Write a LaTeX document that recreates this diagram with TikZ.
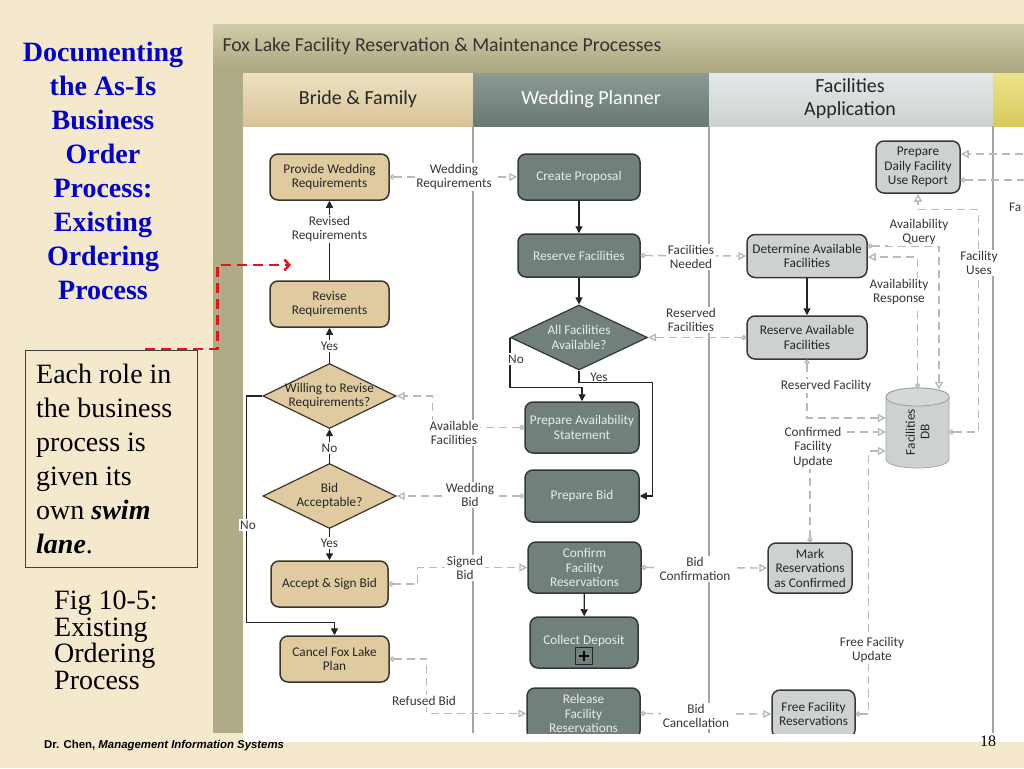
\documentclass[tikz,border=0pt]{standalone}
\usepackage{fontspec}
\setmainfont{Liberation Serif}
\newfontfamily\diagfont{Carlito}
\newfontfamily\arialfont{Liberation Sans}
\usetikzlibrary{arrows.meta,shapes.geometric,calc}
\definecolor{slidebg}{RGB}{245,233,205}
\definecolor{titletop}{RGB}{208,203,168}
\definecolor{titlebot}{RGB}{170,166,128}
\definecolor{stripcol}{RGB}{175,171,135}
\definecolor{bhtop}{RGB}{238,224,192}
\definecolor{bhbot}{RGB}{215,195,152}
\definecolor{whtop}{RGB}{140,154,150}
\definecolor{whbot}{RGB}{105,120,116}
\definecolor{fhtop}{RGB}{228,231,231}
\definecolor{fhbot}{RGB}{205,210,210}
\definecolor{yhtop}{RGB}{236,228,140}
\definecolor{yhbot}{RGB}{215,200,90}
\definecolor{bfill}{RGB}{224,203,160}
\definecolor{bline}{RGB}{60,54,42}
\definecolor{wfill}{RGB}{113,128,123}
\definecolor{wline}{RGB}{50,56,54}
\definecolor{wtext}{RGB}{232,236,234}
\definecolor{ffill}{RGB}{205,210,208}
\definecolor{fline}{RGB}{55,57,57}
\definecolor{lanediv}{RGB}{165,165,165}
\definecolor{msgcol}{RGB}{185,185,185}
\definecolor{flowcol}{RGB}{35,35,35}
\definecolor{lbltext}{RGB}{55,55,55}
\definecolor{titleblue}{RGB}{0,0,200}
\definecolor{notered}{RGB}{230,20,20}
\begin{document}
\begin{tikzpicture}[x=1pt,y=-1pt,
  nodetxt/.style={font=\fontsize{13.3}{14.5}\selectfont\diagfont},
  box/.style={nodetxt, rounded corners=8pt, line width=1.5pt, align=center, inner sep=2pt},
  bbox/.style={box, draw=bline, fill=bfill, text=black!85},
  wbox/.style={box, draw=wline, fill=wfill, text=wtext},
  fbox/.style={box, draw=fline, fill=ffill, text=black!85},
  bdiam/.style={diamond, draw=bline, fill=bfill, line width=1.2pt, inner sep=0pt, minimum width=133pt, minimum height=65pt},
  wdiam/.style={diamond, draw=wline, fill=wfill, line width=1.2pt, inner sep=0pt, minimum width=137pt, minimum height=65pt},
  flow/.style={draw=flowcol, line width=1.3pt, -{Triangle[length=7pt,width=7pt]}},
  msg/.style={draw=msgcol, line width=1.4pt, dash pattern=on 8pt off 5pt, {Circle[open,length=5pt,width=5pt]}-{Triangle[open,length=8pt,width=8pt]}},
  lbl/.style={nodetxt, text=lbltext, fill=white, align=center, inner sep=1.5pt},
  hdr/.style={font=\fontsize{20}{23}\selectfont\diagfont, align=center},
]
\useasboundingbox (0,0) rectangle (1024,768);
\fill[slidebg] (0,0) rectangle (1024,768);

% diagram frame
\fill[white] (243,73) rectangle (1024,742);
\shade[top color=titletop, bottom color=titlebot] (213,25) rectangle (1024,73);
\fill[stripcol] (213,73) rectangle (243,733);
\shade[top color=bhtop, bottom color=bhbot] (243,73) rectangle (473,126);
\shade[top color=whtop, bottom color=whbot] (473,73) rectangle (709,126);
\shade[top color=fhtop, bottom color=fhbot] (709,73) rectangle (993,126);
\shade[top color=yhtop, bottom color=yhbot] (993,73) rectangle (1024,126);
\node[anchor=west, font=\fontsize{19.8}{22}\selectfont\diagfont, text=black!80] (ttlbar) at (219,46) {Fox Lake Facility Reservation \& Maintenance Processes};
\node[hdr, text=black!85] (hb) at (358,99) {Bride \& Family};
\node[hdr, text=white] (hw) at (591,99) {Wedding Planner};
\node[hdr, text=black!85] (hf) at (850,99) {Facilities\\Application};

\begin{scope}
\clip (243,126) rectangle (1024,733);
\draw[lanediv, line width=1.2pt] (473,126) -- (473,733) (709,126) -- (709,733) (993,126) -- (993,733);

% Bride & Family
\node[bbox, minimum width=119pt, minimum height=46pt] (pwr) at (329.5,177) {Provide Wedding\\Requirements};
\node[bbox, minimum width=119pt, minimum height=46pt] (rr) at (329.5,304) {Revise\\Requirements};
\node[bdiam] (wr) at (329.5,396) {};
\node[nodetxt, align=center, text=black!85] (wrt) at (wr.center) {Willing to Revise\\Requirements?};
\node[bdiam] (ba) at (329.5,496) {};
\node[nodetxt, align=center, text=black!85] (bat) at (ba.center) {Bid\\Acceptable?};
\node[bbox, minimum width=117pt, minimum height=46pt] (asb) at (329.5,584) {Accept \& Sign Bid};
\node[bbox, minimum width=109pt, minimum height=46pt] (cfl) at (334.5,659) {Cancel Fox Lake\\Plan};

% Wedding Planner
\node[wbox, minimum width=122pt, minimum height=46pt] (cp) at (579,177) {Create Proposal};
\node[wbox, minimum width=122pt, minimum height=43pt] (rf) at (579,255.5) {Reserve Facilities};
\node[wdiam] (afa) at (579,337.5) {};
\node[nodetxt, align=center, text=wtext] (afat) at (afa.center) {All Facilities\\Available?};
\node[wbox, minimum width=114pt, minimum height=51pt] (pas) at (582,427.5) {Prepare Availability\\Statement};
\node[wbox, minimum width=114pt, minimum height=52pt] (pb) at (582,496) {Prepare Bid};
\node[wbox, minimum width=113pt, minimum height=51pt] (cfr) at (584.5,567.5) {Confirm\\Facility\\Reservations};
\node[wbox, minimum width=108pt, minimum height=51pt] (cd) at (584,642.5) {};
\node[nodetxt, text=wtext] (cdt) at (584,641) {Collect Deposit};
\node[draw=black!85, line width=1pt, minimum size=17pt, inner sep=0pt] (plus) at (584,656) {};
\draw[black, line width=2.6pt] ($(plus.center)+(-5,0)$) -- ($(plus.center)+(5,0)$) ($(plus.center)+(0,-5)$) -- ($(plus.center)+(0,5)$);
\node[wbox, minimum width=113pt, minimum height=51pt] (rfr) at (583.5,713.5) {Release\\Facility\\Reservations};

% Facilities Application
\node[fbox, minimum width=84pt, minimum height=52pt] (pd) at (918,167) {Prepare\\Daily Facility\\Use Report};
\node[fbox, minimum width=120pt, minimum height=43pt] (daf) at (807,256) {Determine Available\\Facilities};
\node[fbox, minimum width=120pt, minimum height=43pt] (raf) at (807,337.5) {Reserve Available\\Facilities};
\node[fbox, minimum width=84pt, minimum height=50pt] (mrc) at (810,568) {Mark\\Reservations\\as Confirmed};
\node[fbox, minimum width=83pt, minimum height=48pt] (ffr) at (813.5,714) {Free Facility\\Reservations};
% Facilities DB cylinder
\node[minimum width=63pt, minimum height=80pt, inner sep=0pt] (db) at (917.5,428) {};
\filldraw[fill=ffill, draw=ffill!80!black, line width=0.8pt] (886,397) -- (886,459) .. controls (886,471) and (949,471) .. (949,459) -- (949,397) .. controls (949,385) and (886,385) .. cycle;
\draw[ffill!75!black, line width=0.8pt, fill=ffill!85!white] (886,397) .. controls (886,409) and (949,409) .. (949,397) .. controls (949,385) and (886,385) .. (886,397);
\node[nodetxt, rotate=90, align=center, text=black!85] (dbt) at (917.5,432) {Facilities\\DB};

% flow connectors
\draw[flow] (rr) -- (pwr);
\draw[flow] (wr) -- (rr);
\draw[flow] (ba) -- (wr);
\draw[flow] (ba) -- (asb);
\draw[flow] (wr.west) -- ++(-16,0) |- ($(cfl.north)+(0,-13)$) -- (cfl.north);
\draw[flow] (cp) -- (rf);
\draw[flow] (rf) -- (afa);
\draw[flow] (afa.west) -- ++(0,50) -| (pas.north);
\draw[flow] (afa.south) -- ++(0,12) -| ($(pb.east)+(13,0)$) -- (pb.east);
\draw[flow] (daf) -- (raf);
\draw[flow] (cfr) -- (cd);

% message connectors
\draw[msg] (pwr.east) -- (cp.west);
\draw[msg] (rf.east) -- (daf.west);
\draw[msg] (raf.west) -- (afa.east);
\draw[msg] (pas.west) -| ($(wr.east)+(36,0)$) -- (wr.east);
\draw[msg] (pb.west) -- (ba.east);
\draw[msg] (asb.east) -- ++(29,0) |- (cfr.west);
\draw[msg] (cfl.east) -- ++(37,0) |- (rfr.west);
\draw[msg] (cfr.east) -- (mrc.west);
\draw[msg] (rfr.east) -- (ffr.west);
\draw[msg] (raf.south) |- ($(db.west)+(0,-10)$);
\draw[msg] (mrc.north) |- ($(db.west)+(0,4)$);
\draw[msg] (ffr.east) -- ++(13,0) |- ($(db.west)+(0,23)$);
\draw[msg] ($(daf.east)+(0,-10)$) -| ($(db.north)+(21.5,2)$);
\draw[msg] (db.north) |- ($(daf.east)+(0,1)$);
\draw[msg] ($(db.east)+(0,4)$) -- ++(29,0) |- ($(pd.south)+(0,16)$) -- (pd.south);
\coordinate (offin) at (1040,154);
\coordinate (offout) at (1040,180);
\draw[msg] (offin) -- ($(pd.east)+(0,-13)$);
\draw[msg] ($(pd.east)+(0,13)$) -- (offout);

% labels
\node[lbl] (l1) at (329.5,229) {Revised\\Requirements};
\node[lbl] (l2) at (329.5,346) {Yes};
\node[lbl] (l3) at (329.5,448) {No};
\node[lbl] (l4) at (329.5,543) {Yes};
\node[lbl] (l6) at (516,359) {No};
\node[nodetxt, text=lbltext, anchor=south, inner sep=1pt] (l7) at (599,382.5) {Yes};
\node[lbl] (l8) at (454,177) {Wedding\\Requirements};
\node[lbl] (l9) at (691,257) {Facilities\\Needed};
\node[lbl] (l10) at (691,320) {Reserved\\Facilities};
\node[lbl] (l11) at (454,433) {Available\\Facilities};
\node[lbl] (l12) at (470,495) {Wedding\\Bid};
\node[lbl] (l13) at (465,568) {Signed\\Bid};
\node[lbl] (l14) at (424,701) {Refused Bid};
\node[lbl] (l15) at (695,569) {Bid\\Confirmation};
\node[lbl] (l16) at (696,716) {Bid\\Cancellation};
\node[lbl] (l17) at (826,386) {Reserved Facility};
\node[lbl] (l18) at (813,447) {Confirmed\\Facility\\Update};
\node[lbl] (l19) at (872,650) {Free Facility\\Update};
\node[lbl] (l20) at (919,232) {Availability\\Query};
\node[lbl] (l21) at (899,292) {Availability\\Response};
\node[lbl] (l22) at (979,263) {Facility\\Uses};
\node[nodetxt, text=lbltext, anchor=west, inner sep=0pt] (l23) at (1009,207) {Fa};
\end{scope}
\node[lbl] (l5) at (248,525) {No};

% slide text
\node[anchor=north, align=center, text=titleblue, inner sep=0pt, font=\fontsize{28}{34}\selectfont\bfseries] (ttl) at (103,42) {Documenting\\the As-Is\\Business\\Order\\Process:\\Existing\\Ordering\\Process};
\node[draw=black!75, line width=0.8pt, minimum width=172pt, minimum height=217pt, anchor=north west, inner sep=0pt] (note) at (25,350) {};
\node[anchor=north west, align=left, inner sep=0pt, font=\fontsize{28}{34}\selectfont] (notetxt) at (36,364) {Each role in\\the business\\process is\\given its\\own \textbf{\textit{swim}}\\\textbf{\textit{lane}}.};
\node[anchor=north west, align=left, inner sep=0pt, font=\fontsize{28}{26.5}\selectfont] (fig) at (54,591) {Fig 10-5:\\Existing\\Ordering\\Process};
\coordinate (redtip) at (291,265);
\draw[notered, line width=2.5pt, dash pattern=on 10pt off 6pt, -{Straight Barb[length=5pt,width=11pt]}] ($(note.north)+(34,-1)$) -- ++(72,0) |- (redtip);
\node[anchor=west, inner sep=0pt, font=\fontsize{11.4}{13}\selectfont\arialfont\bfseries] (footer) at (44,746) {Dr. Chen, \textit{Management Information Systems}};
\node[font=\fontsize{16}{18}\selectfont] (pg) at (988,741) {18};
\end{tikzpicture}
\end{document}
